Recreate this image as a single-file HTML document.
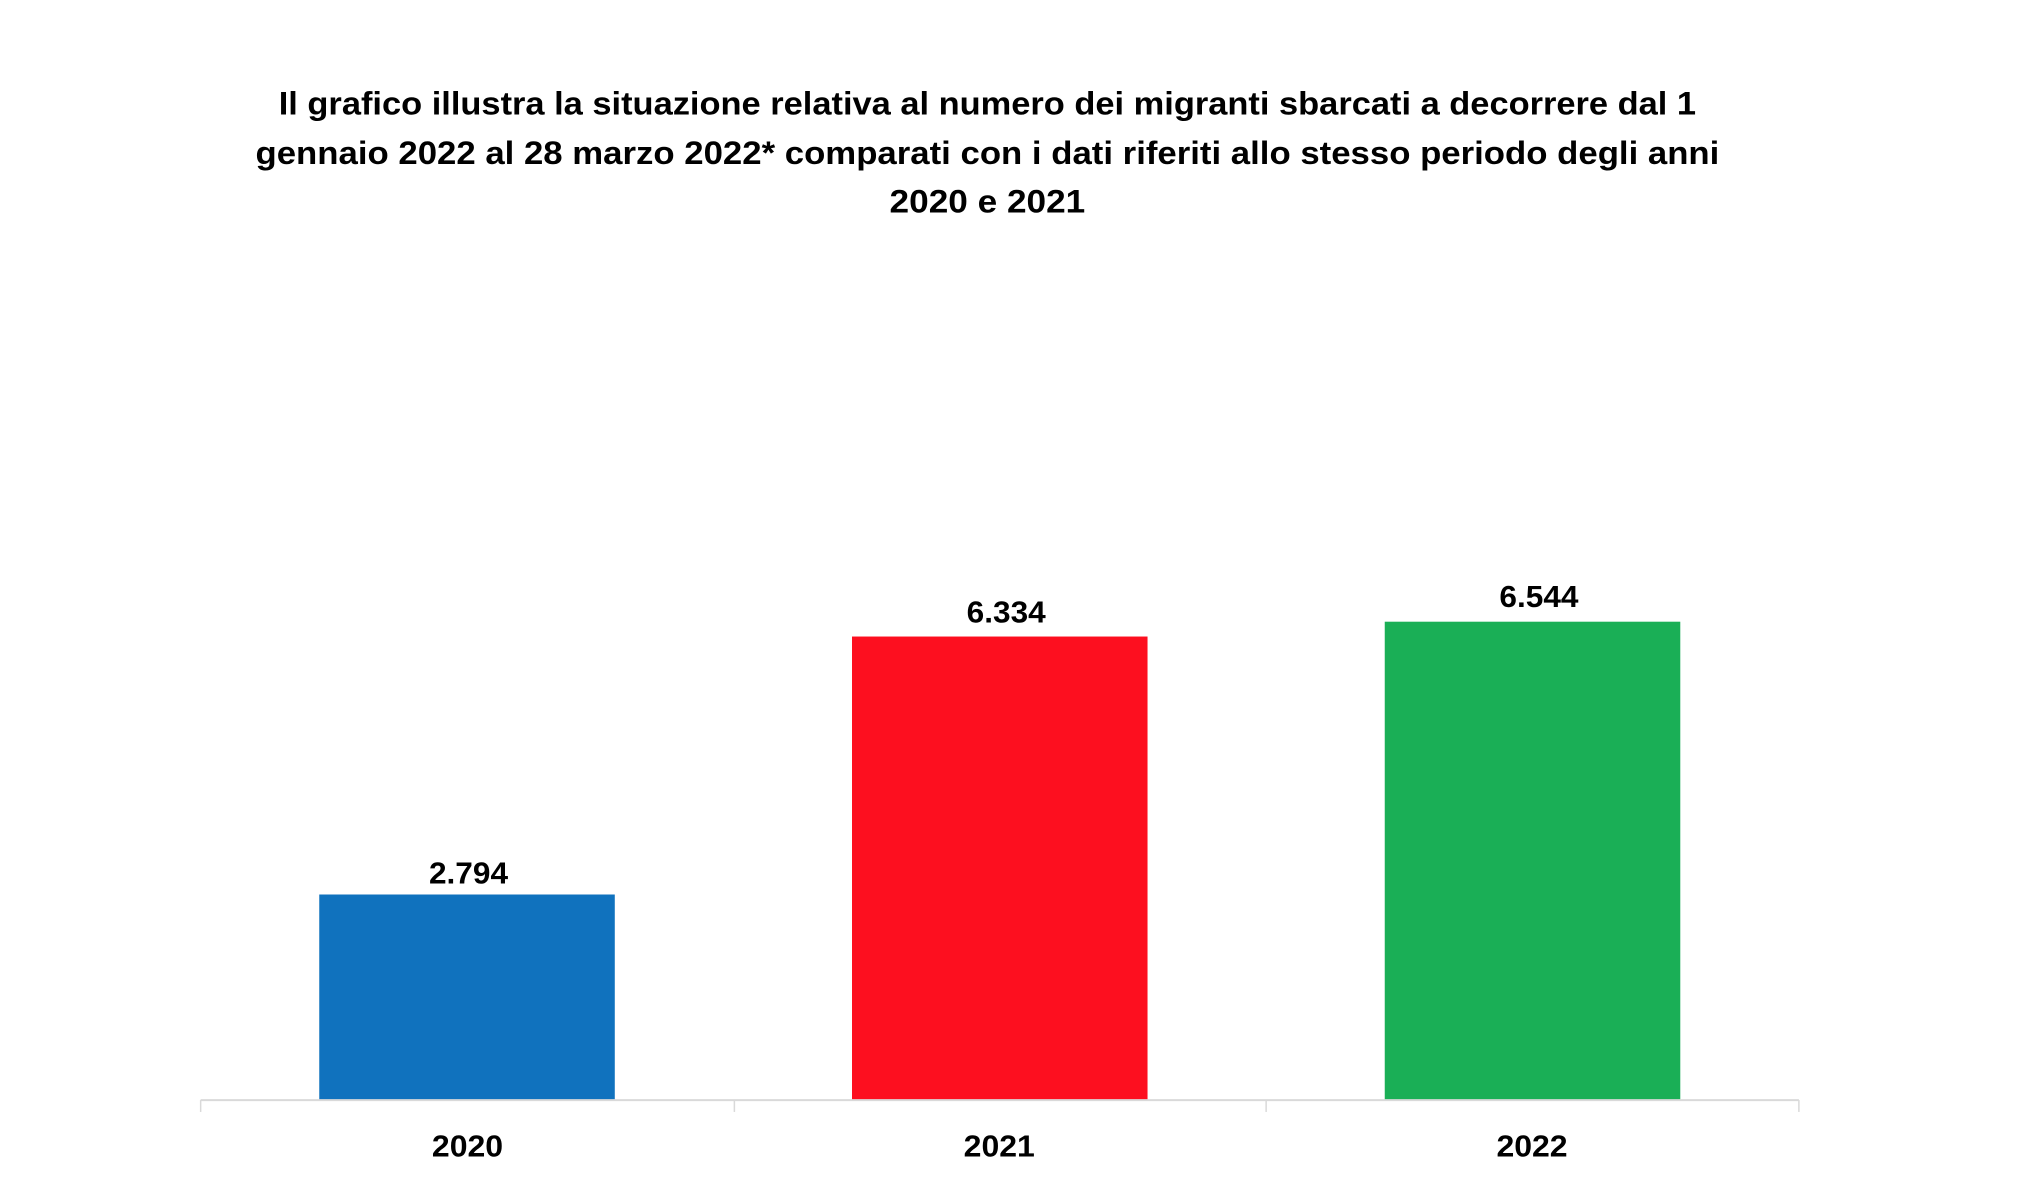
<!DOCTYPE html>
<html><head><meta charset="utf-8"><style>html,body{margin:0;padding:0;background:#fff}svg{display:block}</style></head>
<body>
<svg width="2030" height="1188" viewBox="0 0 2030 1188" xmlns="http://www.w3.org/2000/svg" font-family="'Liberation Sans', sans-serif" font-weight="bold">
<g transform="scale(0.9884)">
<g font-size="33" text-anchor="middle" fill="#000">
<text x="999" y="116" textLength="1434" lengthAdjust="spacingAndGlyphs">Il grafico illustra la situazione relativa al numero dei migranti sbarcati a decorrere dal 1</text>
<text x="999" y="166" textLength="1481" lengthAdjust="spacingAndGlyphs">gennaio 2022 al 28 marzo 2022* comparati con i dati riferiti allo stesso periodo degli anni</text>
<text x="999" y="215" textLength="198" lengthAdjust="spacingAndGlyphs">2020 e 2021</text>
</g>
<rect x="323" y="905" width="299" height="208" fill="#1072be"/>
<rect x="862" y="644" width="299" height="469" fill="#fd0f1f"/>
<rect x="1401" y="629" width="299" height="484" fill="#1aaf56"/>
<line x1="203" y1="1113" x2="1820" y2="1113" stroke="#d9d9d9" stroke-width="2"/>
<g stroke="#d9d9d9" stroke-width="1.5">
<line x1="203" y1="1113" x2="203" y2="1125"/><line x1="743" y1="1113" x2="743" y2="1125"/>
<line x1="1281" y1="1113" x2="1281" y2="1125"/><line x1="1820" y1="1113" x2="1820" y2="1125"/>
</g>
<g font-size="31" text-anchor="middle" fill="#000">
<text x="474" y="894" textLength="80" lengthAdjust="spacingAndGlyphs">2.794</text>
<text x="1018" y="630" textLength="80" lengthAdjust="spacingAndGlyphs">6.334</text>
<text x="1557" y="614" textLength="80" lengthAdjust="spacingAndGlyphs">6.544</text>
<text x="473" y="1170" textLength="72" lengthAdjust="spacingAndGlyphs">2020</text>
<text x="1011" y="1170" textLength="72" lengthAdjust="spacingAndGlyphs">2021</text>
<text x="1550" y="1170" textLength="72" lengthAdjust="spacingAndGlyphs">2022</text>
</g>
</g>
</svg>
</body></html>
